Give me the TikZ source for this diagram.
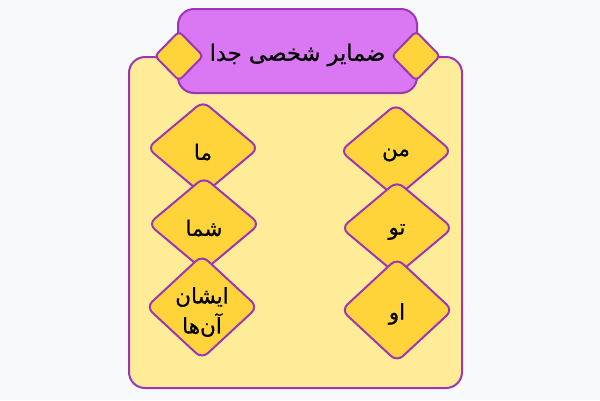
\documentclass[tikz,border=0pt]{standalone}
\usepackage{fontspec}
\newfontfamily\arabicfont[Script=Arabic,FakeBold=0.6]{DejaVu Sans}
\TeXXeTstate=1
\usetikzlibrary{shapes.geometric}
\definecolor{bgc}{HTML}{F8F9FA}
\definecolor{purp}{HTML}{9C36B5}
\definecolor{titlefill}{HTML}{DA77F2}
\definecolor{panel}{HTML}{FFEC99}
\definecolor{gem}{HTML}{FFD43B}
\tikzset{
  gemshape/.style={diamond, draw=purp, fill=gem, line width=2pt, inner sep=0pt, rounded corners=8pt, minimum width=112pt, minimum height=94pt},
  smallgem/.style={diamond, draw=purp, fill=gem, line width=2pt, inner sep=0pt, rounded corners=4pt, minimum width=49pt, minimum height=50pt},
  gemtext/.style={font=\arabicfont\fontsize{21.5}{30}\selectfont, align=center, text=black, inner sep=0pt},
}
\begin{document}
\begin{tikzpicture}[x=1pt,y=-1pt]
\useasboundingbox (0,0) rectangle (600,400);
\fill[bgc] (0,0) rectangle (600,400);
\draw[purp, fill=panel, line width=2pt, rounded corners=16pt] (129,57) rectangle (462,388);
\node[draw=purp, fill=titlefill, line width=2pt, rounded corners=16pt, minimum width=239pt, minimum height=84pt, inner sep=0pt] (title) at (297.5,51) {};
\node[font=\arabicfont\fontsize{22.5}{26}\selectfont, text=black, inner sep=0pt] (titletext) at ([yshift=-4pt]title.center) {\beginR ضمایر شخصی جدا\endR};
\node[smallgem] (sl) at (179,56) {};
\node[smallgem] (sr) at (416,56) {};
% right column
\node[gemshape] (d1) at (396,151) {};
\node[gemtext] (t1) at ([yshift=-4pt]d1.center) {\beginR من\endR};
\node[gemshape] (d2) at (397,228) {};
\node[gemtext] (t2) at ([yshift=-4pt]d2.center) {\beginR تو\endR};
\node[gemshape, minimum height=104pt] (d3) at (397,310) {};
\node[gemtext] (t3) at ([yshift=-4pt]d3.center) {\beginR او\endR};
% left column
\node[gemshape] (d4) at (203,148) {};
\node[gemtext] (t4) at ([yshift=-4pt]d4.center) {\beginR ما\endR};
\node[gemshape] (d5) at (204,224) {};
\node[gemtext] (t5) at ([yshift=-4pt]d5.center) {\beginR شما\endR};
\node[gemshape, minimum height=104pt] (d6) at (202,307) {};
\node[gemtext] (t6) at ([yshift=-5pt]d6.center) {\beginR ایشان\endR\\\beginR آن‌ها\endR};
\end{tikzpicture}
\end{document}
